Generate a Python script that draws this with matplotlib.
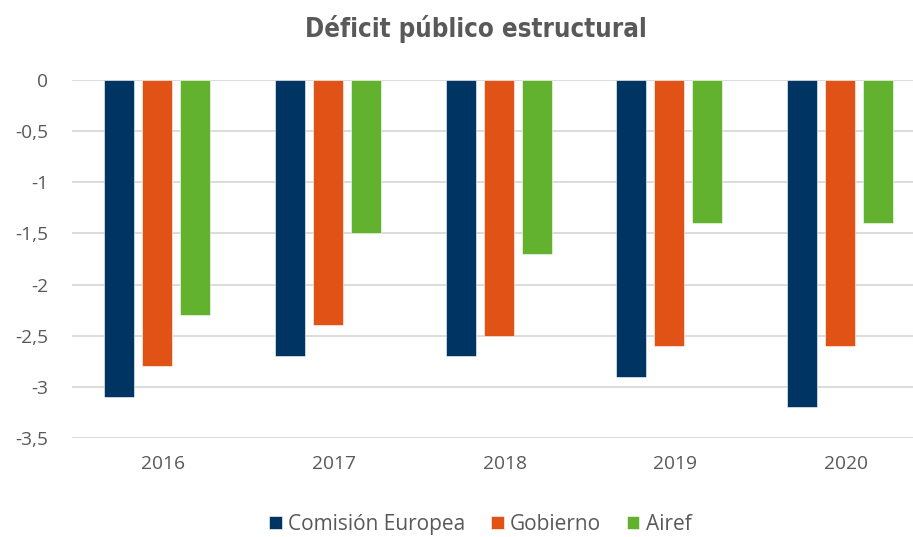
import matplotlib.pyplot as plt
import numpy as np

years = ["2016", "2017", "2018", "2019", "2020"]
comision = [-3.1, -2.7, -2.7, -2.9, -3.2]
gobierno = [-2.8, -2.4, -2.5, -2.6, -2.6]
airef = [-2.3, -1.5, -1.7, -1.4, -1.4]
yticks = [0, -0.5, -1, -1.5, -2, -2.5, -3, -3.5]
ytick_labels = ["0", "-0,5", "-1", "-1,5", "-2", "-2,5", "-3", "-3,5"]

series = [
    ("Comisión Europea", comision, "#003462"),
    ("Gobierno", gobierno, "#E05216"),
    ("Airef", airef, "#63B22F"),
]

plt.rcParams["font.family"] = ["Open Sans", "DejaVu Sans"]

fig = plt.figure(figsize=(9.13, 5.37), dpi=100)
ax = fig.add_axes([0.0789, 0.1844, 0.9211, 0.6667])

x = np.arange(len(years))
width = 0.176
offset = 0.222
for i, (name, vals, color) in enumerate(series):
    ax.bar(x + (i - 1) * offset, vals, width=width, color=color, label=name,
           edgecolor="#ffffff", linewidth=0.4, zorder=3)

ax.set_ylim(-3.5, 0)
ax.set_xlim(-0.5, 4.428)
ax.set_yticks(yticks)
ax.set_yticklabels(ytick_labels)
ax.set_xticks(x + 0.035)
ax.set_xticklabels(years)
ax.tick_params(axis="both", length=0, labelsize=13.8, colors="#595959")
ax.tick_params(axis="y", pad=17)
ax.tick_params(axis="x", pad=12)
ax.grid(axis="y", color="#d9d9d9", linewidth=1.3, zorder=0)
for s in ax.spines.values():
    s.set_visible(False)

fig.text(0.521, 0.946, "Déficit público estructural", ha="center", va="center",
         fontsize=18.5, fontweight="bold", fontstretch="condensed", color="#595959",
         family=["DejaVu Sans"])

fig.legend(loc="center", bbox_to_anchor=(0.526, 0.024), ncol=3, frameon=False,
           fontsize=15, labelcolor="#595959", handlelength=0.6, handleheight=0.6,
           handletextpad=0.3, columnspacing=1.25)

fig.savefig("out.png", dpi=100)
